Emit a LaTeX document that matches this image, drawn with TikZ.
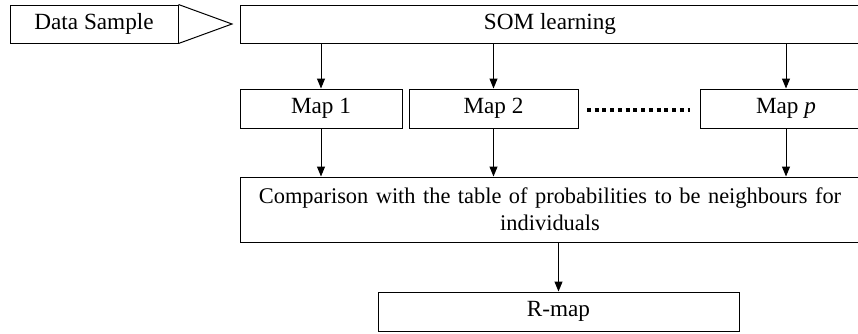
\documentclass[tikz,border=0pt]{standalone}
\usepackage{fontspec}
\setmainfont{Liberation Serif}
\usetikzlibrary{arrows.meta}
\begin{document}
\begin{tikzpicture}[x=0.75pt,y=-0.75pt,
  box/.style={draw=black,line width=0.75pt,rectangle,inner sep=0pt,minimum height=29pt,
    font=\fontsize{17.4}{20}\selectfont,align=center},
  arr/.style={draw=black,line width=0.75pt,-{Triangle[width=6pt,length=7.5pt]}},
  dotline/.style={draw=black,line width=2.6pt,dash pattern=on 3pt off 2.8pt}]
\useasboundingbox (0,0) rectangle (858,333);
\node[box,minimum width=126pt,minimum height=28.5pt] (data) at (94,24) {Data Sample};
\coordinate (tip) at (232,24);
\draw[line width=0.75pt] (data.north east) -- (tip) -- (data.south east);
\node[box,minimum width=465pt,minimum height=28.5pt] (som) at (550,24) {SOM learning};
\node[box,minimum width=121.5pt,minimum height=29.25pt] (m1) at (321,108.5) {Map 1};
\node[box,minimum width=126.75pt,minimum height=29.25pt] (m2) at (493.5,108.5) {Map 2};
\node[box,minimum width=129pt,minimum height=29.25pt] (mp) at (786,108.5) {Map \textit{p}};
\node[box,minimum width=465pt,minimum height=48.75pt,text width=460pt,
  font=\fontsize{16.8}{20.5}\selectfont] (cmp) at (550,209.5)
  {Comparison with the table of probabilities to be neighbours for\\individuals};
\node[box,minimum width=270.75pt,minimum height=29.25pt] (rmap) at (558.5,311.5) {R-map};
\coordinate (d1) at (587,110);
\coordinate (d2) at (690,110);
\draw[dotline] (d1) -- (d2);
\draw[arr] (som.south -| m1.north) -- (m1.north);
\draw[arr] (som.south -| m2.north) -- (m2.north);
\draw[arr] (som.south -| mp.north) -- (mp.north);
\draw[arr] (m1.south) -- (cmp.north -| m1.south);
\draw[arr] (m2.south) -- (cmp.north -| m2.south);
\draw[arr] (mp.south) -- (cmp.north -| mp.south);
\draw[arr] (cmp.south -| rmap.north) -- (rmap.north);
\end{tikzpicture}
\end{document}
